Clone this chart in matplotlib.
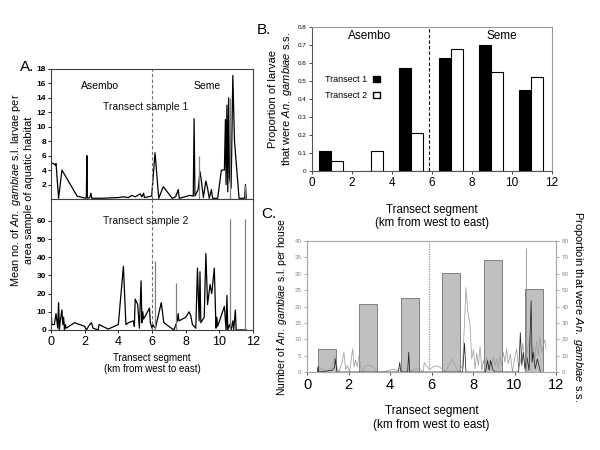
import matplotlib
matplotlib.use("Agg")
import matplotlib.pyplot as plt
from matplotlib.patches import Patch
import numpy as np

plt.rcParams['font.family'] = ['Liberation Sans', 'DejaVu Sans']
plt.rcParams['mathtext.fontset'] = 'custom'
plt.rcParams['mathtext.it'] = 'Liberation Sans:italic'
plt.rcParams['mathtext.rm'] = 'Liberation Sans'

# ---------------- Panel A data ----------------
t1_x = [0.02, 0.15, 0.25, 0.30, 0.45, 0.65, 1.55, 2.05, 2.10, 2.13,
        2.16, 2.30, 2.37, 2.42, 3.00, 4.00, 4.30, 4.60, 4.80, 5.00,
        5.30, 5.40, 5.50, 5.55, 5.98, 6.18, 6.40, 6.67, 7.20, 7.40,
        7.56, 7.62, 8.25, 8.45, 8.50, 8.55, 8.74, 8.85, 8.95, 9.05,
        9.20, 9.30, 9.40, 9.53, 9.60, 9.90, 10.12, 10.30, 10.36, 10.40,
        10.45, 10.50, 10.55, 10.60, 10.70, 10.80, 10.90, 11.17, 11.50, 11.55,
        11.60]
t1_y = [5.0, 4.9, 4.7, 4.9, 0.1, 4.0, 0.4, 0.1, 0.2, 6.0,
        0.1, 0.2, 0.8, 0.1, 0.1, 0.2, 0.3, 0.2, 0.5, 0.3,
        0.7, 0.3, 0.8, 0.2, 0.4, 6.4, 0.1, 1.7, 0.1, 0.3,
        1.3, 0.1, 0.5, 0.4, 11.1, 0.4, 1.3, 3.8, 2.2, 0.2,
        2.5, 1.5, 0.1, 1.3, 0.1, 0.1, 4.0, 4.0, 11.0, 2.0,
        13.0, 1.0, 14.0, 3.0, 1.5, 17.1, 8.0, 0.1, 0.1, 2.0,
        0.1]
t1_spike_x = [8.80, 10.66, 11.55]
t1_spike_y = [6.0, 14.0, 2.0]

t2_x = [0.00, 0.05, 0.20, 0.30, 0.40, 0.45, 0.50, 0.55, 0.65, 0.70,
        0.75, 0.80, 0.85, 0.90, 1.40, 2.00, 2.10, 2.30, 2.40, 2.50,
        2.80, 2.85, 3.40, 4.00, 4.30, 4.45, 4.60, 4.90, 4.95, 5.00,
        5.15, 5.25, 5.35, 5.40, 5.45, 5.50, 5.85, 5.90, 6.00, 6.05,
        6.10, 6.20, 6.55, 6.70, 7.30, 7.50, 7.55, 7.60, 8.00, 8.20,
        8.30, 8.40, 8.60, 8.70, 8.80, 8.85, 8.90, 9.10, 9.20, 9.30,
        9.45, 9.55, 9.70, 9.80, 9.85, 9.90, 10.30, 10.40, 10.45, 10.50,
        10.60, 10.70, 10.80, 10.85, 10.95, 11.00, 11.50, 11.60]
t2_y = [11, 3, 3, 9, 1, 15, 0, 5, 11, 3,
        7, 0, 3, 1, 4, 2, 0, 3, 4, 1,
        0, 3, 0.5, 3, 35, 3, 4, 5, 2, 17,
        14, 1, 27, 4, 10, 6, 12, 4, 1, 3,
        2, 1, 15, 4, 0, 5, 9, 5, 7, 10,
        8, 3, 1, 34, 5, 32, 4, 7, 42, 14,
        25, 20, 34, 1, 7, 2, 13, 0, 19, 0,
        3, 0, 5, 0, 11, 0, 0, 0]
t2_spike_x = [6.15, 7.45, 10.65, 11.55]
t2_spike_y = [38, 26, 61, 61]

# ---------------- Panel B data ----------------
seg_centers = [0.95, 2.95, 4.95, 6.95, 8.95, 10.95]
prop_t1 = [0.11, 0.0, 0.575, 0.63, 0.70, 0.45]
prop_t2 = [0.055, 0.11, 0.21, 0.675, 0.55, 0.525]

# ---------------- Panel C data ----------------
house_bars = [7.0, 20.8, 22.5, 30.1, 34.1, 25.3]

c_gray_x = [0.50, 0.55, 0.98, 1.20, 1.34, 1.40, 1.54, 1.70, 1.78, 1.86,
            1.95, 2.05, 2.14, 2.20, 2.27, 2.34, 2.42, 2.50, 2.58, 2.66,
            2.80, 3.00, 3.20, 3.35, 3.70, 4.00, 4.20, 4.35, 4.50, 4.60,
            4.65, 4.90, 5.30, 5.45, 5.60, 5.65, 5.90, 6.10, 6.30, 6.50,
            6.66, 6.98, 7.30, 7.50, 7.66, 7.74, 7.86, 7.94, 8.02, 8.10,
            8.18, 8.26, 8.34, 8.42, 8.50, 8.58, 8.66, 8.74, 8.82, 8.90,
            8.98, 9.06, 9.14, 9.22, 9.30, 9.38, 9.46, 9.54, 9.62, 9.70,
            9.80, 9.90, 10.00, 10.10, 10.20, 10.30, 10.40, 10.50, 10.60, 10.74,
            10.82, 10.90, 10.98, 11.06, 11.14, 11.22, 11.30, 11.38, 11.46, 11.52]
c_gray_y = [0.0, 1.5, 0.0, 1.7, 4.8, 2.2, 0.0, 3.2, 6.0, 0.7,
            2.0, 0.0, 4.2, 7.1, 1.5, 3.7, 1.5, 4.8, 1.7, 0.0,
            1.8, 2.0, 1.5, 0.0, 0.0, 0.6, 0.9, 0.3, 1.2, 0.5,
            0.0, 0.2, 1.0, 1.0, 0.0, 2.9, 0.7, 1.7, 1.9, 1.0,
            0.0, 3.9, 0.0, 2.0, 25.8, 19.0, 13.9, 4.0, 6.8, 1.0,
            5.8, 2.0, 7.8, 0.5, 3.5, 1.2, 4.5, 0.8, 3.8, 1.5,
            4.8, 2.0, 4.0, 1.0, 5.0, 2.0, 6.0, 3.0, 7.1, 2.5,
            5.5, 0.0, 4.0, 7.1, 1.5, 3.5, 8.8, 2.0, 6.0, 10.8,
            3.0, 8.0, 4.0, 9.5, 5.0, 10.8, 6.0, 8.0, 9.8, 7.0]
c_black_x = [0.50, 0.53, 0.58, 1.20, 1.33, 1.36, 1.45, 4.40, 4.47, 4.52,
             4.85, 4.90, 4.95, 7.50, 7.59, 7.66, 8.60, 8.70, 8.78, 8.85,
             8.95, 9.05, 10.20, 10.28, 10.35, 10.42, 10.50, 10.60, 10.70, 10.80,
             10.85, 10.90, 11.00, 11.10, 11.25]
c_black_y = [0, 1.7, 0, 0.5, 1.5, 4.0, 0, 0, 2.9, 0,
             0, 6.0, 0, 0, 8.8, 0, 0, 3.5, 0.5, 3.5,
             0.8, 0, 0, 12.0, 2.0, 6.0, 1.0, 4.5, 0.5, 21.8,
             3.0, 6.0, 1.0, 4.0, 0]
c_spike_x = [10.53]
c_spike_y = [38.0]

GAMB = r"$\it{An.\ gambiae}$"

fig = plt.figure(figsize=(6, 4.5), dpi=100)

# ---------------- Panel A ----------------
axA1 = fig.add_axes([0.085, 0.5578, 0.3367, 0.2889])
axA2 = fig.add_axes([0.085, 0.2667, 0.3367, 0.2911])

axA1.plot(t1_x, t1_y, color='black', lw=0.9)
axA1.vlines(t1_spike_x, 0, t1_spike_y, color='#808080', lw=0.9)
axA1.axvline(6.0, color='#707070', ls=(0, (3, 2)), lw=0.8)
axA1.set_xlim(0, 12)
axA1.set_ylim(0, 18)
axA1.set_yticks([2, 4, 6, 8, 10, 12, 14, 16, 18])
axA1.set_xticks([])
axA1.text(2.9, 15.7, "Asembo", ha='center', va='center', fontsize=7.5)
axA1.text(9.25, 15.7, "Seme", ha='center', va='center', fontsize=7.5)
axA1.text(5.6, 12.8, "Transect sample 1", ha='center', va='center', fontsize=7.5, color='#111111')

axA2.plot(t2_x, t2_y, color='black', lw=0.9)
axA2.vlines(t2_spike_x, 0, t2_spike_y, color='#808080', lw=0.9)
axA2.axvline(6.0, color='#707070', ls=(0, (3, 2)), lw=0.8)
axA2.set_xlim(0, 12)
axA2.set_ylim(0, 72)
axA2.set_yticks([0, 10, 20, 30, 40, 50, 60])
axA2.set_xticks([0, 2, 4, 6, 8, 10, 12])
axA2.text(5.6, 60, "Transect sample 2", ha='center', va='center', fontsize=7.5, color='#111111')
axA2.set_xlabel("Transect segment\n(km from west to east)", fontsize=7, labelpad=4, linespacing=1.15)

for ax in (axA1, axA2):
    for s in ax.spines.values():
        s.set_color('#404040')
        s.set_linewidth(0.8)
    ax.tick_params(axis='y', labelsize=6, length=2, width=0.6, pad=1.5)
    for lab in ax.get_yticklabels():
        lab.set_fontweight('bold')
axA2.tick_params(axis='x', labelsize=9, length=2, width=0.6, pad=2)

fig.text(0.036, 0.578, "Mean no. of " + GAMB + " s.l. larvae per\narea sample of aquatic habitat",
         rotation=90, ha='center', va='center', fontsize=7.8, linespacing=1.05)
fig.text(0.033, 0.852, "A.", fontsize=11, ha='left', va='center')

# ---------------- Panel B ----------------
axB = fig.add_axes([0.52, 0.62, 0.40, 0.32])
cB = np.array(seg_centers)
axB.bar(cB - 0.3, prop_t1, width=0.6, color='black', edgecolor='black', lw=0.8)
axB.bar(cB + 0.3, prop_t2, width=0.6, color='white', edgecolor='black', lw=0.8)
axB.axvline(5.85, color='black', ls=(0, (3, 2)), lw=0.8)
axB.set_xlim(0, 12)
axB.set_ylim(0, 0.8)
axB.set_xticks([0, 2, 4, 6, 8, 10, 12])
axB.set_yticks([0, 0.1, 0.2, 0.3, 0.4, 0.5, 0.6, 0.7, 0.8])
axB.set_yticklabels(["0", "0.1", "0.2", "0.3", "0.4", "0.5", "0.6", "0.7", "0.8"])
axB.tick_params(axis='y', labelsize=4.5, length=2, width=0.5, pad=2)
axB.tick_params(axis='x', labelsize=8.5, length=2, width=0.5, pad=2)
for s in axB.spines.values():
    s.set_color('#999999')
    s.set_linewidth(0.8)
axB.spines['left'].set_color('#555555')
axB.spines['bottom'].set_color('#555555')
axB.text(2.9, 0.75, "Asembo", ha='center', va='center', fontsize=8.5)
axB.text(9.5, 0.75, "Seme", ha='center', va='center', fontsize=8.5)
handles = [Patch(facecolor='black', edgecolor='black', label='Transect 1'),
           Patch(facecolor='white', edgecolor='black', label='Transect 2')]
axB.legend(handles=handles, loc='upper left', bbox_to_anchor=(0.02, 0.72),
           frameon=False, markerfirst=False, fontsize=6.5, handlelength=0.7,
           handleheight=0.7, handletextpad=0.7, labelspacing=0.75)
axB.set_xlabel("Transect segment\n(km from west to east)", fontsize=8.3, labelpad=11, linespacing=1.15)
axB.set_ylabel("Proportion of larvae\nthat were " + GAMB + " s.s.", fontsize=8, labelpad=3, linespacing=1.2)
fig.text(0.428, 0.933, "B.", fontsize=11, ha='left', va='center')

# ---------------- Panel C ----------------
axC = fig.add_axes([0.5117, 0.1733, 0.415, 0.2911])
axC.bar(seg_centers, house_bars, width=0.85, color='#c0c0c0', edgecolor='#707070', lw=0.6)
axC.plot(c_gray_x, c_gray_y, color='#a0a0a0', lw=0.55)
axC.plot(c_black_x, c_black_y, color='#202020', lw=0.55)
axC.vlines(c_spike_x, 0, c_spike_y, color='#909090', lw=0.6)
axC.axvline(5.88, color='#909090', ls=(0, (1, 1)), lw=0.9)
axC.set_xlim(0, 12)
axC.set_ylim(0, 40)
axC.set_xticks([0, 2, 4, 6, 8, 10, 12])
axC.set_yticks([0, 5, 10, 15, 20, 25, 30, 35, 40])
axC.tick_params(axis='y', labelsize=4.5, length=2, width=0.5, pad=2, colors='#888888')
axC.tick_params(axis='x', labelsize=10.5, length=2, width=0.5, pad=2)
for s in axC.spines.values():
    s.set_color('#aaaaaa')
    s.set_linewidth(0.8)
axC2 = axC.twinx()
axC2.set_ylim(0, 80)
axC2.set_yticks([0, 10, 20, 30, 40, 50, 60, 70, 80])
axC2.tick_params(axis='y', labelsize=4.5, length=2, width=0.5, pad=2, colors='#888888')
for s in axC2.spines.values():
    s.set_color('#aaaaaa')
    s.set_linewidth(0.8)
axC.set_xlabel("Transect segment\n(km from west to east)", fontsize=8.5, labelpad=10, linespacing=1.15)
axC.set_ylabel("Number of " + GAMB + " s.l. per house", fontsize=7.5, labelpad=4)
axC2.set_ylabel("Proportioin that were " + GAMB + " s.s.", fontsize=8, rotation=270,
                labelpad=2, va='bottom')
fig.text(0.435, 0.525, "C.", fontsize=11, ha='left', va='center')

fig.savefig("out.png", dpi=100)
